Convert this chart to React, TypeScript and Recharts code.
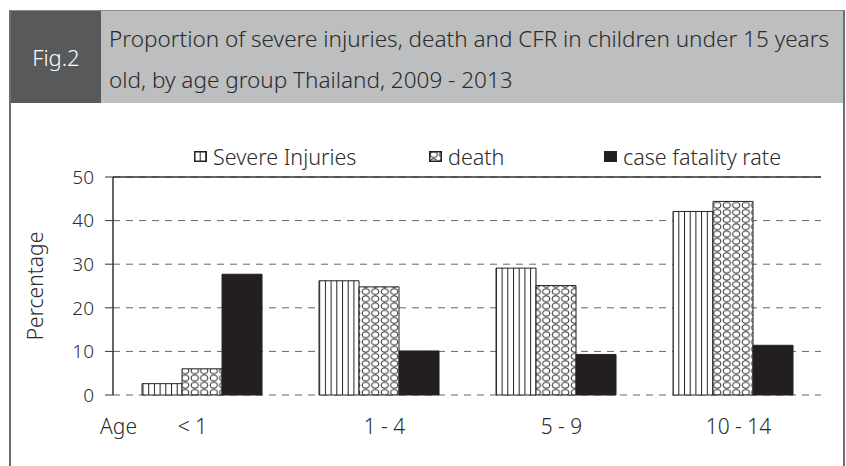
import { Bar, BarChart, CartesianGrid, ReferenceLine, XAxis, YAxis } from "recharts";

// age groups and percentages
const ageGroups = ["< 1", "1 - 4", "5 - 9", "10 - 14"];
const severeInjuries = [2.6, 26.2, 29.1, 42.1];
const deaths = [6.0, 24.8, 25.1, 44.4];
const caseFatalityRate = [27.7, 10.1, 9.3, 11.4];
const yTicks = [0, 10, 20, 30, 40, 50];
const bandEdges = [0, 1, 2, 3, 4];

const seriesNames = ["Severe Injuries", "death", "case fatality rate"];
const seriesFills = ["url(#vlines)", "url(#circles)", "#231f20"];

const data = ageGroups.map((age, i) => ({
  age,
  severe: severeInjuries[i],
  death: deaths[i],
  cfr: caseFatalityRate[i],
}));

const FONT = '"Noto Sans", sans-serif';
const INK = "#2b2b2b";

function AgeTick({ x, y, payload, index }: any) {
  return (
    <text x={x} y={y} dx={index === 0 ? -9 : 6} dy={39} textAnchor="middle" fill={INK} fontSize={21} fontFamily={FONT} fontWeight={300}>
      {payload.value}
    </text>
  );
}

function LegendIcon({ fill }: { fill: string }) {
  return (
    <svg width={13} height={11} style={{ display: "block" }}>
      <rect x={0.75} y={0.75} width={11.5} height={9.5} fill={fill} stroke="#222" strokeWidth={1.5} />
    </svg>
  );
}

export default function App() {
  const legendWidths = [235, 175, 220];
  return (
    <div
      style={{
        position: "relative",
        width: 846,
        height: 466,
        overflow: "hidden",
        background: "#fff",
        fontFamily: FONT,
        fontWeight: 300,
      }}
    >
      <style>{`body{margin:0}`}</style>

      {/* frame + header band */}
      <div
        style={{
          position: "absolute",
          left: 9,
          top: 10,
          width: 832,
          height: 470,
          borderTop: "1px solid #8a8a8a",
          borderLeft: "2px solid #6d6e70",
          borderRight: "2px solid #6d6e70",
        }}
      >
        <div style={{ display: "flex", height: 92 }}>
          <div
            style={{
              width: 90,
              background: "#58595b",
              color: "#fff",
              fontSize: 22,
              display: "flex",
              alignItems: "center",
              justifyContent: "center",
            }}
          >
            Fig.2
          </div>
          <div
            style={{
              flex: 1,
              background: "#bcbec0",
              color: INK,
              fontSize: 22.5,
              lineHeight: "41px",
              padding: "7px 0 0 8px",
              whiteSpace: "nowrap",
            }}
          >
            Proportion of severe injuries, death and CFR in children under 15 years
            <br />
            old, by age group Thailand, 2009 - 2013
          </div>
        </div>
      </div>

      {/* legend */}
      <div style={{ position: "absolute", top: 142, left: 194, display: "flex", color: INK, fontSize: 21.5 }}>
        {seriesNames.map((name, i) => (
          <div key={name} style={{ width: legendWidths[i], display: "flex", alignItems: "center", gap: 6 }}>
            <LegendIcon fill={seriesFills[i]} />
            <span>{name}</span>
          </div>
        ))}
      </div>

      <div style={{ position: "absolute", left: 0, top: 0 }}>
        <BarChart
          width={846}
          height={466}
          data={data}
          margin={{ top: 177, right: 25, bottom: 0, left: 0 }}
          barCategoryGap="16.4%"
          barGap={0}
        >
          <defs>
            <pattern id="vlines" width={5.7} height={10} patternUnits="userSpaceOnUse">
              <rect width={5.7} height={10} fill="#fff" />
              <line x1={0.5} y1={0} x2={0.5} y2={10} stroke="#222" strokeWidth={1} />
            </pattern>
            <pattern id="circles" width={9.5} height={7.2} patternUnits="userSpaceOnUse">
              <rect width={9.5} height={7.2} fill="#fff" />
              <ellipse cx={4.75} cy={3.6} rx={3.6} ry={2.9} fill="none" stroke="#222" strokeWidth={1} />
            </pattern>
          </defs>
          <CartesianGrid vertical={false} stroke="#666" strokeDasharray="7 6" />
          <XAxis
            xAxisId="edge"
            type="number"
            domain={[0, 4]}
            ticks={bandEdges}
            allowDataOverflow
            tick={false}
            tickSize={8}
            tickLine={{ stroke: "#333" }}
            axisLine={{ stroke: "#333", strokeWidth: 1.5 }}
            height={0}
          />
          <XAxis
            dataKey="age"
            axisLine={false}
            tickLine={false}
            tickSize={0}
            tickMargin={0}
            tick={<AgeTick />}
            interval={0}
            height={71}
            label={{ value: "Age", position: "left", offset: -24, fill: INK, fontSize: 21, fontFamily: FONT, fontWeight: 300, dy: -4 }}
          />
          <YAxis
            width={113}
            domain={[0, 50]}
            ticks={yTicks}
            tickSize={8}
            tickMargin={11}
            axisLine={{ stroke: "#333", strokeWidth: 1.5 }}
            tickLine={{ stroke: "#333" }}
            tick={{ fill: INK, fontSize: 19, fontFamily: FONT, fontWeight: 300 }}
            label={{
              value: "Percentage",
              angle: -90,
              position: "insideLeft",
              offset: 36,
              fill: INK,
              fontSize: 21,
              fontFamily: FONT,
              fontWeight: 300,
              style: { textAnchor: "middle" },
            }}
          />
          <ReferenceLine y={50} stroke="#333" strokeWidth={1.5} />
          <ReferenceLine xAxisId="edge" x={4} stroke="#333" strokeWidth={1.5} />
          <Bar dataKey="severe" name={seriesNames[0]} fill={seriesFills[0]} stroke="#222" strokeWidth={1} isAnimationActive={false} />
          <Bar dataKey="death" name={seriesNames[1]} fill={seriesFills[1]} stroke="#222" strokeWidth={1} isAnimationActive={false} />
          <Bar dataKey="cfr" name={seriesNames[2]} fill={seriesFills[2]} stroke="#222" strokeWidth={1} isAnimationActive={false} />
        </BarChart>
      </div>
    </div>
  );
}
